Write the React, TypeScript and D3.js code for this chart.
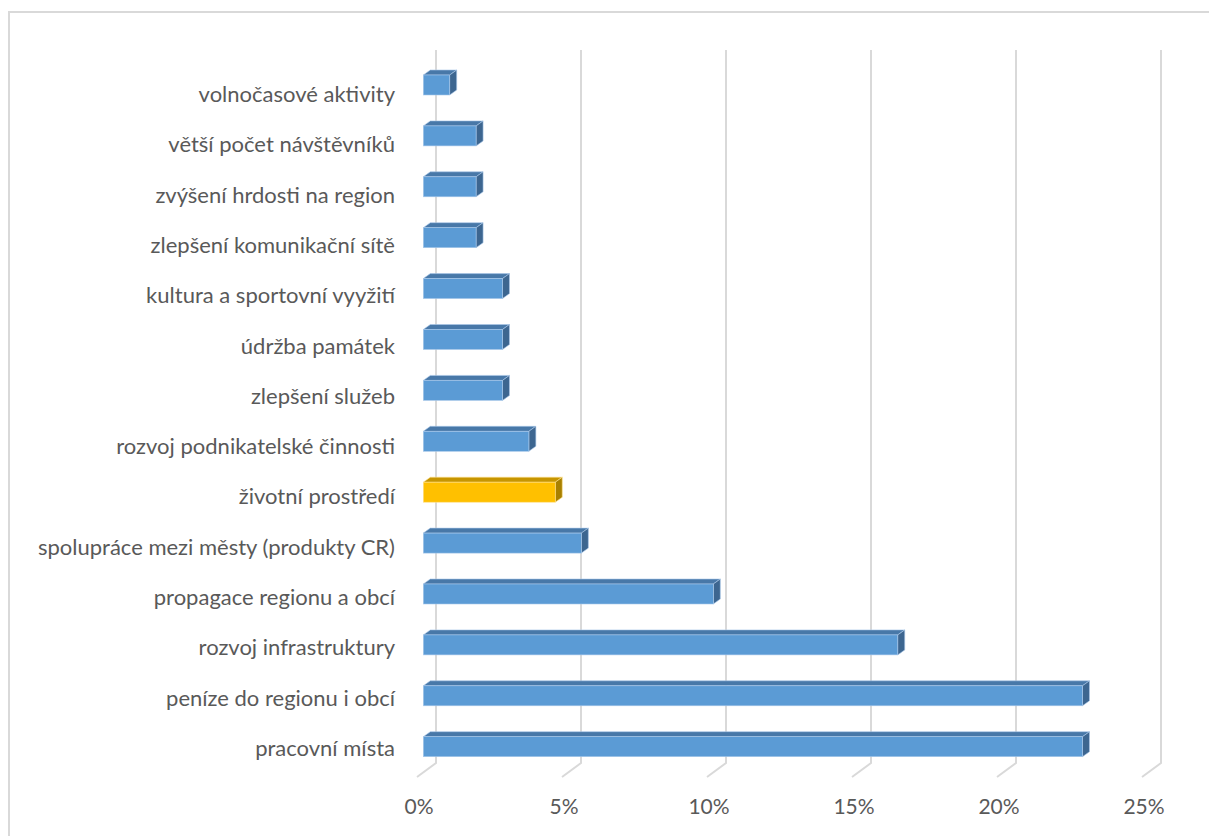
import { useEffect, useRef } from "react";
import * as d3 from "d3";

// categories, top to bottom as drawn
const categories = [
  "volnočasové aktivity",
  "větší počet návštěvníků",
  "zvýšení hrdosti na region",
  "zlepšení komunikační sítě",
  "kultura a sportovní vyyžití",
  "údržba památek",
  "zlepšení služeb",
  "rozvoj podnikatelské činnosti",
  "životní prostředí",
  "spolupráce mezi městy (produkty CR)",
  "propagace regionu a obcí",
  "rozvoj infrastruktury",
  "peníze do regionu i obcí",
  "pracovní místa",
];

// share of answers (fraction)
const shares = [
  0.0091, 0.0182, 0.0182, 0.0182, 0.0273, 0.0273, 0.0273, 0.0364, 0.0455,
  0.0545, 0.1, 0.1636, 0.2273, 0.2273,
];

const highlighted = ["životní prostředí"];

const ticks = [0, 0.05, 0.1, 0.15, 0.2, 0.25];

const W = 1209;
const H = 836;

const App = () => {
  const svgRef = useRef<SVGSVGElement>(null);

  useEffect(() => {
    if (!svgRef.current) return;
    const svg = d3.select(svgRef.current);
    svg.selectAll("*").remove();

    const backX0 = 436; // zero on the back wall
    const frontX0 = 423.3; // zero on the bar fronts
    const depthX = 7;
    const depthY = -5;
    const barH = 20;

    const x = d3.scaleLinear().domain([0, 0.25]).range([0, 725]);
    const yBar = d3.scalePoint<string>().domain(categories).range([75, 736.7]);
    const yLabel = d3.scalePoint<string>().domain(categories).range([102, 756]);

    // chart frame
    svg
      .append("rect")
      .attr("x", 9)
      .attr("y", 12)
      .attr("width", W + 20)
      .attr("height", H + 20)
      .attr("fill", "#fff")
      .attr("stroke", "#d9d9d9")
      .attr("stroke-width", 2);

    // gridlines: back wall + floor
    const grid = svg.append("g");
    ticks.forEach((t) => {
      const gx = backX0 + x(t);
      grid
        .append("path")
        .attr("d", `M${gx},50 L${gx},763 L${gx - 19},777`)
        .attr("fill", "none")
        .attr("stroke", "#d9d9d9")
        .attr("stroke-width", 2);
      grid
        .append("text")
        .attr("x", gx - 17)
        .attr("y", 814)
        .attr("text-anchor", "middle")
        .attr("fill", "#595959")
        .style("font-family", "Lato, 'Open Sans', sans-serif")
        .style("font-size", "21px")
        .text(d3.format(".0%")(t));
    });

    // bars
    const bars = svg.append("g");
    categories.forEach((c, i) => {
      const v = shares[i];
      const top = yBar(c)!;
      const x1 = frontX0 + x(v);
      const hi = highlighted.includes(c);
      const front = hi ? "#ffc000" : "#5b9bd5";
      const topC = hi ? "#c69500" : "#4878a8";
      const side = hi ? "#a88000" : "#3d6690";
      const edge = hi ? "#ffe08a" : "#a9c8ea";

      bars
        .append("path")
        .attr(
          "d",
          `M${frontX0},${top} L${frontX0 + depthX},${top + depthY} L${x1 + depthX},${top + depthY} L${x1},${top} Z`,
        )
        .attr("fill", topC)
        .attr("stroke", edge)
        .attr("stroke-width", 0.6);
      bars
        .append("path")
        .attr(
          "d",
          `M${x1},${top} L${x1 + depthX},${top + depthY} L${x1 + depthX},${top + barH + depthY} L${x1},${top + barH} Z`,
        )
        .attr("fill", side)
        .attr("stroke", edge)
        .attr("stroke-width", 0.6);
      bars
        .append("rect")
        .attr("x", frontX0)
        .attr("y", top)
        .attr("width", x(v))
        .attr("height", barH)
        .attr("fill", front)
        .attr("stroke", edge)
        .attr("stroke-width", 0.6);
    });

    // category labels
    svg
      .append("g")
      .selectAll("text")
      .data(categories)
      .join("text")
      .attr("x", 395)
      .attr("y", (d) => yLabel(d)!)
      .attr("text-anchor", "end")
      .attr("fill", "#595959")
      .style("font-family", "Lato, 'Open Sans', sans-serif")
      .style("font-size", "22px")
      .text((d) => d);
  }, []);

  return (
    <svg
      ref={svgRef}
      width={W}
      height={H}
      style={{ position: "absolute", left: 0, top: 0, display: "block" }}
    ></svg>
  );
};

export default App;
